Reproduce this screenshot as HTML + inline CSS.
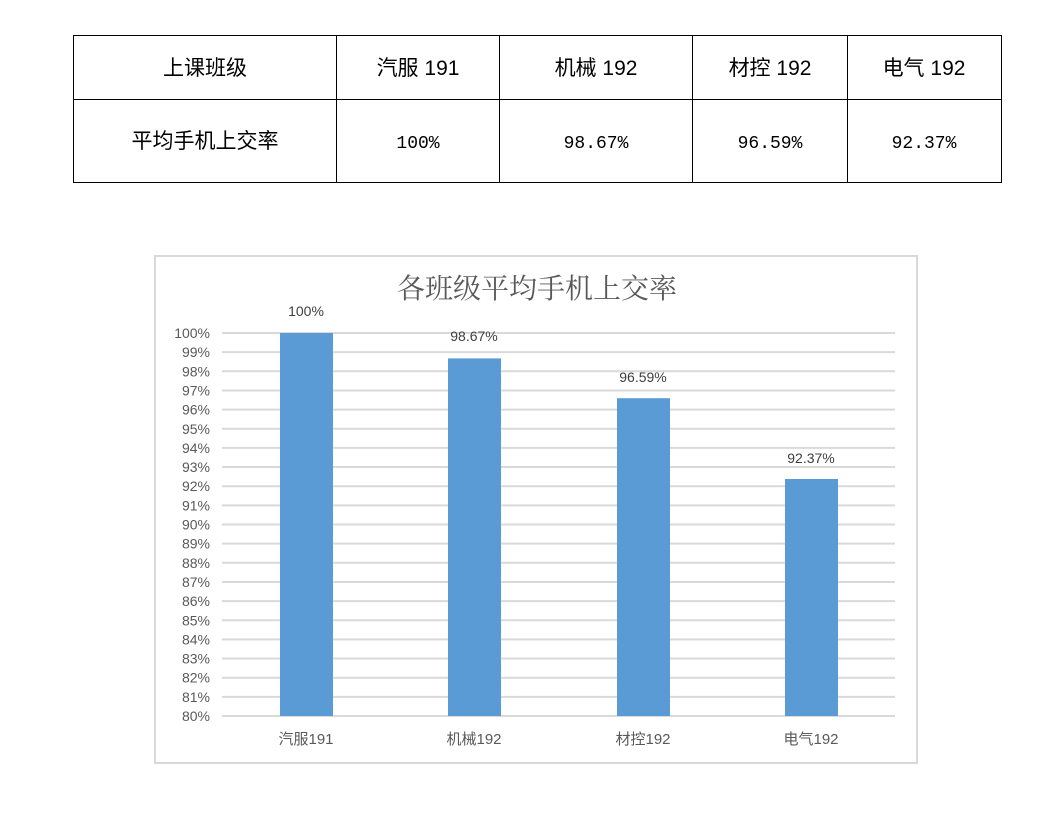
<!DOCTYPE html>
<html><head><meta charset="utf-8"><style>
body{margin:0;background:#fff;width:1048px;height:825px;overflow:hidden;font-family:"Liberation Sans","Noto Sans CJK SC",sans-serif;}
</style></head><body>
<svg width="1048" height="825" xmlns="http://www.w3.org/2000/svg" style="position:absolute;left:0;top:0">
<g stroke="#000" stroke-width="1" fill="none">
<rect x="73.5" y="35.5" width="928" height="147"/>
<line x1="73" y1="99.5" x2="1001" y2="99.5"/>
<line x1="336.5" y1="35" x2="336.5" y2="182"/>
<line x1="499.5" y1="35" x2="499.5" y2="182"/>
<line x1="692.5" y1="35" x2="692.5" y2="182"/>
<line x1="847.5" y1="35" x2="847.5" y2="182"/>
</g>
<g font-family="'Liberation Sans','Noto Sans CJK SC',sans-serif" font-size="21" fill="#000" text-anchor="middle">
<text x="205" y="75">上课班级</text>
<text x="418" y="75">汽服 191</text>
<text x="596" y="75">机械 192</text>
<text x="770" y="75">材控 192</text>
<text x="924" y="75">电气 192</text>
<text x="205" y="148">平均手机上交率</text>
</g>
<g font-family="'Liberation Mono','Noto Sans CJK SC',monospace" font-size="18" fill="#000" text-anchor="middle">
<text x="418" y="148">100%</text>
<text x="596" y="148">98.67%</text>
<text x="770" y="148">96.59%</text>
<text x="924" y="148">92.37%</text>
</g>
<rect x="155" y="256" width="762" height="507" fill="#fff" stroke="#d9d9d9" stroke-width="2"/>
<text x="537" y="298" text-anchor="middle" font-family="'Noto Serif CJK SC','Noto Sans CJK SC',serif" font-size="28" fill="#595959">各班级平均手机上交率</text>
<g id="grid" stroke="#d9d9d9" stroke-width="2"></g>
<g id="ylab" font-family="'Liberation Sans',sans-serif" font-size="14" fill="#595959" text-anchor="end"></g>
<g fill="#5b9bd5">
<rect x="280" y="333" width="53" height="383"/>
<rect x="448" y="358.4" width="53" height="357.6"/>
<rect x="617" y="398.2" width="53" height="317.8"/>
<rect x="785" y="479" width="53" height="237"/>
</g>
<g font-family="'Liberation Sans',sans-serif" font-size="14" fill="#404040" text-anchor="middle">
<text x="306" y="316">100%</text>
<text x="474" y="341">98.67%</text>
<text x="643" y="382">96.59%</text>
<text x="811" y="463">92.37%</text>
</g>
<g font-family="'Liberation Sans','Noto Sans CJK SC',sans-serif" font-size="15" fill="#595959" text-anchor="middle">
<text x="306" y="744">汽服191</text>
<text x="474" y="744">机械192</text>
<text x="643" y="744">材控192</text>
<text x="811" y="744">电气192</text>
</g>
</svg>
<script>
var g=document.getElementById('grid'),l=document.getElementById('ylab'),ns='http://www.w3.org/2000/svg';
for(var i=0;i<=20;i++){var y=716-i*19.15;var ln=document.createElementNS(ns,'line');ln.setAttribute('x1',222);ln.setAttribute('x2',895);ln.setAttribute('y1',y);ln.setAttribute('y2',y);g.appendChild(ln);
var t=document.createElementNS(ns,'text');t.setAttribute('x',210);t.setAttribute('y',y+5);t.textContent=(80+i)+'%';l.appendChild(t);}
</script>
</body></html>
